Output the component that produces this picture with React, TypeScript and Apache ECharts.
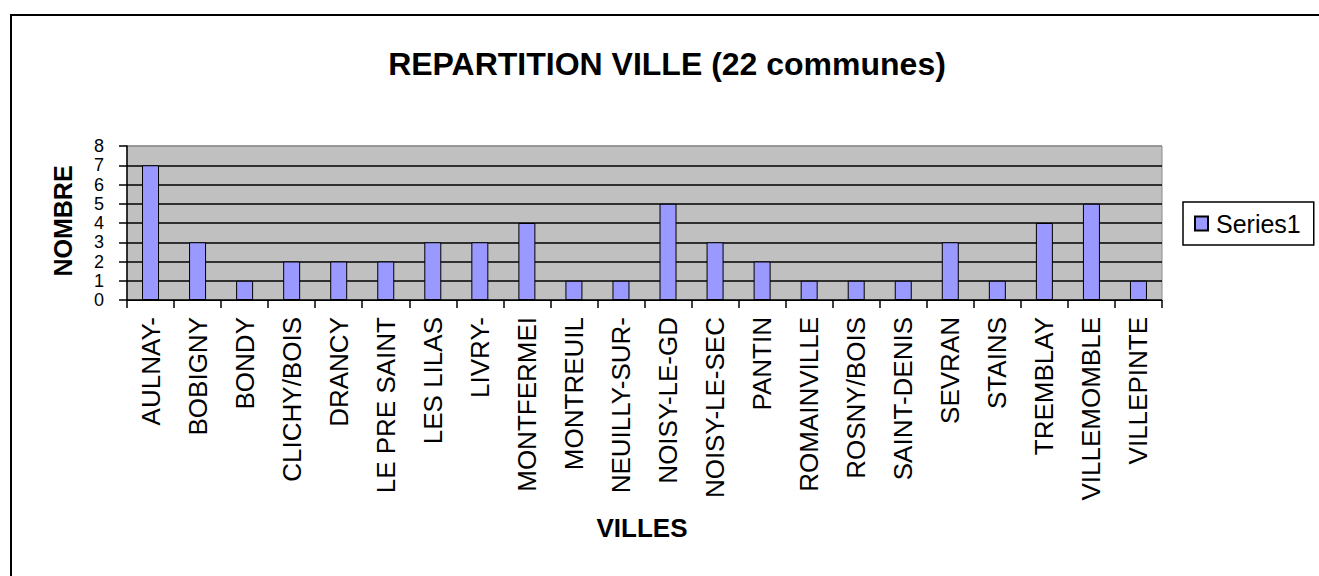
import React, { useEffect, useRef } from "react";
import * as echarts from "echarts";

const titleText = "REPARTITION VILLE (22 communes)";
const yAxisTitle = "NOMBRE";
const xAxisTitle = "VILLES";
const seriesName = "Series1";

const villes = [
  "AULNAY-",
  "BOBIGNY",
  "BONDY",
  "CLICHY/BOIS",
  "DRANCY",
  "LE PRE SAINT",
  "LES LILAS",
  "LIVRY-",
  "MONTFERMEI",
  "MONTREUIL",
  "NEUILLY-SUR-",
  "NOISY-LE-GD",
  "NOISY-LE-SEC",
  "PANTIN",
  "ROMAINVILLE",
  "ROSNY/BOIS",
  "SAINT-DENIS",
  "SEVRAN",
  "STAINS",
  "TREMBLAY",
  "VILLEMOMBLE",
  "VILLEPINTE",
];

const nombres = [7, 3, 1, 2, 2, 2, 3, 3, 4, 1, 1, 5, 3, 2, 1, 1, 1, 3, 1, 4, 5, 1];

const yMin = 0;
const yMax = 8;
const yInterval = 1;

const FONT = "'Liberation Sans', Arial, sans-serif";

export default function App() {
  const ref = useRef<HTMLDivElement>(null);

  useEffect(() => {
    if (!ref.current) return;
    const chart = echarts.init(ref.current, undefined, { renderer: "svg" });
    const splitColors: string[] = [];
    for (let v = yMin; v <= yMax; v += yInterval) {
      splitColors.push(v === yMax ? "#8c8c8c" : "#000000");
    }
    chart.setOption({
      animation: false,
      backgroundColor: "#ffffff",
      textStyle: { fontFamily: FONT },
      grid: {
        left: 127,
        right: 157,
        top: 146,
        bottom: 276,
        show: true,
        backgroundColor: "#c0c0c0",
        borderColor: "#8c8c8c",
        borderWidth: 1,
      },
      legend: {
        show: true,
        left: 1183,
        top: 202,
        orient: "vertical",
        borderColor: "#000",
        borderWidth: 1.5,
        backgroundColor: "#fff",
        padding: [9, 13, 9, 11],
        itemWidth: 13,
        itemHeight: 14,
        icon: "rect",
        textStyle: {
          fontFamily: FONT,
          fontSize: 25,
          color: "#000",
          padding: [0, 0, 0, 3],
        },
        data: [seriesName],
      },
      xAxis: {
        type: "category",
        data: villes,
        boundaryGap: true,
        axisLine: { show: true, lineStyle: { color: "#000", width: 1 } },
        axisTick: { show: true, length: 8, inside: false, lineStyle: { color: "#000", width: 1.5 } },
        axisLabel: {
          rotate: 90,
          interval: 0,
          margin: 17,
          color: "#000",
          fontFamily: FONT,
          fontSize: 26,
        },
        splitLine: { show: false },
      },
      yAxis: {
        type: "value",
        min: yMin,
        max: yMax,
        interval: yInterval,
        axisLine: { show: true, lineStyle: { color: "#000", width: 1.5 } },
        axisTick: { show: true, length: 8, lineStyle: { color: "#000", width: 1.5 } },
        axisLabel: {
          margin: 23,
          color: "#000",
          fontFamily: FONT,
          fontSize: 18,
          showMinLabel: true,
          showMaxLabel: true,
          hideOverlap: false,
        },
        splitLine: {
          show: true,
          lineStyle: { color: splitColors, width: 1.5 },
        },
      },
      series: [
        {
          name: seriesName,
          type: "bar",
          data: nombres,
          barWidth: 17,
          itemStyle: { color: "#9999ff", borderColor: "#000", borderWidth: 1 },
        },
      ],
      graphic: [
        {
          type: "rect",
          shape: { x: 11, y: 15, width: 1400, height: 700 },
          style: { fill: "none", stroke: "#000", lineWidth: 2 },
          silent: true,
        },
        {
          type: "text",
          x: 667,
          y: 64,
          style: {
            text: titleText,
            align: "center",
            verticalAlign: "middle",
            fontFamily: FONT,
            fontSize: 32,
            fontWeight: "bold",
            fill: "#000",
          },
        },
        {
          type: "text",
          x: 63,
          y: 221,
          rotation: Math.PI / 2,
          style: {
            text: yAxisTitle,
            align: "center",
            verticalAlign: "middle",
            fontFamily: FONT,
            fontSize: 25,
            fontWeight: "bold",
            fill: "#000",
          },
        },
        {
          type: "text",
          x: 642,
          y: 528,
          style: {
            text: xAxisTitle,
            align: "center",
            verticalAlign: "middle",
            fontFamily: FONT,
            fontSize: 26,
            fontWeight: "bold",
            fill: "#000",
          },
        },
      ],
    });
    return () => chart.dispose();
  }, []);

  return (
    <div
      ref={ref}
      style={{ position: "absolute", left: 0, top: 0, width: 1319, height: 576, background: "#fff" }}
    />
  );
}
